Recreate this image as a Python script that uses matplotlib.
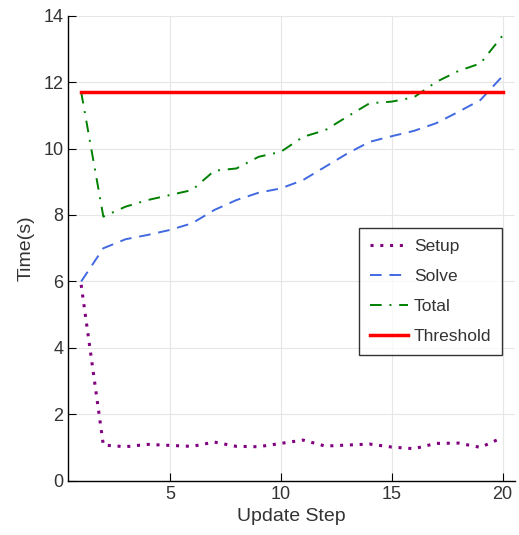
import matplotlib
matplotlib.use("Agg")
import matplotlib.pyplot as plt

steps = list(range(1, 21))
setup = [5.9, 1.08, 1.03, 1.10, 1.07, 1.04, 1.17, 1.04, 1.03, 1.13,
         1.23, 1.05, 1.08, 1.11, 1.02, 0.97, 1.13, 1.14, 1.01, 1.31]
solve = [6.0, 7.0, 7.27, 7.4, 7.55, 7.75, 8.15, 8.45, 8.67, 8.8,
         9.05, 9.45, 9.85, 10.2, 10.37, 10.53, 10.76, 11.1, 11.46, 12.18]
total = [11.7, 7.95, 8.25, 8.45, 8.6, 8.75, 9.33, 9.4, 9.75, 9.9,
         10.35, 10.55, 10.96, 11.36, 11.41, 11.54, 12.0, 12.33, 12.56, 13.4]
threshold = 11.7

plt.rcParams['font.family'] = ['Liberation Sans', 'DejaVu Sans']

fig = plt.figure(figsize=(5.19, 5.35), dpi=100)
ax = fig.add_axes([0.1316, 0.101, 0.8604, 0.870])

ax.plot(steps, setup, color='#800080', linestyle=(0, (1, 2.2)), linewidth=2.2, label='Setup')
ax.plot(steps, solve, color='#4169E1', linestyle=(0, (6, 4)), linewidth=1.4, label='Solve')
ax.plot(steps, total, color='#008000', linestyle=(0, (6, 4, 1, 4)), linewidth=1.4, label='Total')
ax.plot([steps[0], steps[-1]], [threshold, threshold], color='#FF0000', linewidth=2.5, label='Threshold')

ax.set_xlim(0.42, 20.55)
ax.set_ylim(0, 14)
ax.set_xticks([5, 10, 15, 20])
ax.set_yticks([0, 2, 4, 6, 8, 10, 12, 14])
ax.grid(True, color='#e6e6e6', linewidth=0.8)
ax.set_axisbelow(True)
for s in ['top', 'right']:
    ax.spines[s].set_visible(False)
for s in ['left', 'bottom']:
    ax.spines[s].set_linewidth(1.0)
ax.tick_params(direction='in', length=6, labelsize=13, colors='black', labelcolor='#333333')
ax.set_xlabel('Update Step', fontsize=14, color='#333333', labelpad=4)
ax.set_ylabel('Time(s)', fontsize=14, color='#333333', labelpad=6)

leg = ax.legend(loc='upper left', bbox_to_anchor=(0.651, 0.544), fontsize=12.5,
                frameon=True, fancybox=False, edgecolor='black', handlelength=2.2,
                labelspacing=0.85, borderpad=0.65, handletextpad=0.3, borderaxespad=0)
leg.get_frame().set_linewidth(1.0)
for t in leg.get_texts():
    t.set_color('#333333')

fig.savefig('out.png', dpi=100)
